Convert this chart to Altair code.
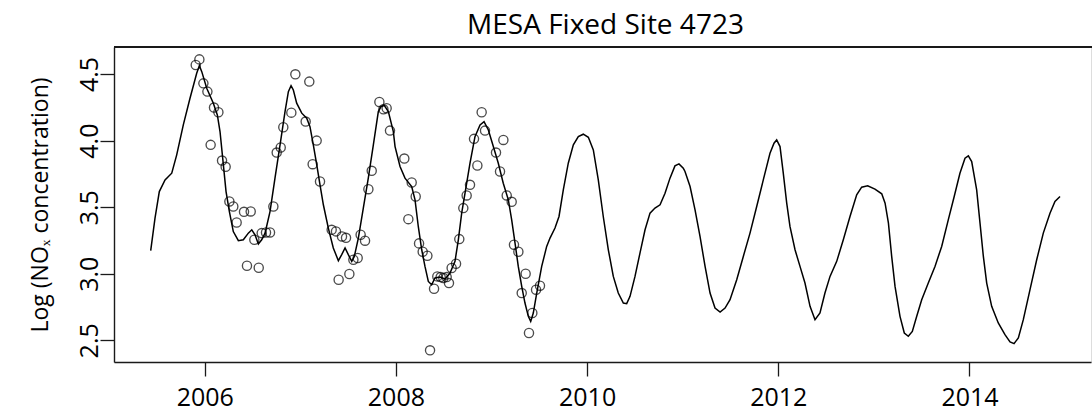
import altair as alt
import pandas as pd

# Monthly observations (decimal year, log NOx)
obs_year = [
    2005.906, 2005.944, 2005.986, 2006.028, 2006.062, 2006.097, 2006.143, 2006.181,
    2006.219, 2006.258, 2006.299, 2006.334, 2006.411, 2006.442, 2006.481, 2006.519,
    2006.565, 2006.596, 2006.641, 2006.683, 2006.718, 2006.753, 2006.795, 2006.822,
    2006.906, 2006.948, 2007.056, 2007.094, 2007.129, 2007.171, 2007.206, 2007.328,
    2007.373, 2007.401, 2007.436, 2007.478, 2007.513, 2007.555, 2007.600, 2007.631,
    2007.677, 2007.712, 2007.747, 2007.827, 2007.869, 2007.903, 2007.938, 2008.088,
    2008.130, 2008.165, 2008.207, 2008.242, 2008.280, 2008.329, 2008.357, 2008.399,
    2008.433, 2008.468, 2008.496, 2008.531, 2008.555, 2008.583, 2008.629, 2008.663,
    2008.705, 2008.740, 2008.775, 2008.817, 2008.852, 2008.897, 2008.932, 2009.047,
    2009.089, 2009.124, 2009.159, 2009.211, 2009.235, 2009.281, 2009.316, 2009.357,
    2009.392, 2009.427, 2009.466, 2009.507,
]
obs_value = [
    4.568, 4.610, 4.430, 4.368, 3.968, 4.248, 4.213, 3.850,
    3.803, 3.543, 3.505, 3.385, 3.465, 3.060, 3.468, 3.255,
    3.045, 3.305, 3.310, 3.310, 3.505, 3.910, 3.948, 4.100,
    4.210, 4.498, 4.143, 4.443, 3.823, 4.000, 3.693, 3.330,
    3.318, 2.955, 3.280, 3.270, 2.998, 3.105, 3.118, 3.293,
    3.248, 3.635, 3.773, 4.290, 4.235, 4.243, 4.075, 3.865,
    3.410, 3.685, 3.580, 3.228, 3.165, 3.135, 2.425, 2.887,
    2.980, 2.975, 2.968, 2.975, 2.930, 3.043, 3.075, 3.260,
    3.493, 3.588, 3.668, 4.013, 3.813, 4.213, 4.075, 3.910,
    3.768, 4.005, 3.588, 3.540, 3.218, 3.165, 2.855, 3.000,
    2.555, 2.705, 2.880, 2.910,
]

# Predicted series
fit_year = [
    2005.435, 2005.480, 2005.525, 2005.585, 2005.655, 2005.707, 2005.776, 2005.846,
    2005.916, 2005.944, 2005.969, 2006.021, 2006.090, 2006.132, 2006.160, 2006.188,
    2006.223, 2006.258, 2006.299, 2006.352, 2006.404, 2006.456, 2006.492, 2006.526,
    2006.561, 2006.596, 2006.631, 2006.683, 2006.735, 2006.788, 2006.840, 2006.875,
    2006.903, 2006.927, 2006.962, 2007.015, 2007.067, 2007.101, 2007.136, 2007.172,
    2007.206, 2007.241, 2007.293, 2007.345, 2007.398, 2007.433, 2007.468, 2007.502,
    2007.538, 2007.565, 2007.607, 2007.659, 2007.711, 2007.764, 2007.816, 2007.844,
    2007.879, 2007.921, 2007.973, 2007.991, 2008.043, 2008.095, 2008.165, 2008.200,
    2008.234, 2008.270, 2008.304, 2008.339, 2008.374, 2008.409, 2008.461, 2008.514,
    2008.566, 2008.618, 2008.653, 2008.688, 2008.723, 2008.775, 2008.827, 2008.880,
    2008.922, 2008.967, 2009.019, 2009.071, 2009.123, 2009.176, 2009.211, 2009.246,
    2009.280, 2009.316, 2009.350, 2009.385, 2009.410, 2009.437, 2009.473, 2009.525,
    2009.577, 2009.612, 2009.664, 2009.706, 2009.751, 2009.803, 2009.856, 2009.908,
    2009.960, 2010.013, 2010.065, 2010.117, 2010.169, 2010.222, 2010.274, 2010.326,
    2010.379, 2010.414, 2010.449, 2010.501, 2010.553, 2010.606, 2010.658, 2010.710,
    2010.763, 2010.815, 2010.867, 2010.919, 2010.961, 2011.006, 2011.024, 2011.077,
    2011.129, 2011.181, 2011.234, 2011.286, 2011.338, 2011.391, 2011.443, 2011.495,
    2011.565, 2011.634, 2011.704, 2011.774, 2011.843, 2011.913, 2011.955, 2011.983,
    2012.018, 2012.052, 2012.088, 2012.122, 2012.175, 2012.227, 2012.279, 2012.332,
    2012.384, 2012.436, 2012.488, 2012.541, 2012.611, 2012.680, 2012.750, 2012.820,
    2012.872, 2012.935, 2013.011, 2013.082, 2013.117, 2013.152, 2013.186, 2013.221,
    2013.273, 2013.318, 2013.360, 2013.402, 2013.448, 2013.500, 2013.569, 2013.639,
    2013.709, 2013.778, 2013.840, 2013.900, 2013.953, 2013.988, 2014.023, 2014.075,
    2014.110, 2014.145, 2014.180, 2014.232, 2014.301, 2014.371, 2014.424, 2014.466,
    2014.511, 2014.563, 2014.633, 2014.703, 2014.772, 2014.842, 2014.894, 2014.947,
]
fit_value = [
    3.173, 3.418, 3.617, 3.705, 3.755, 3.893, 4.118, 4.318,
    4.506, 4.563, 4.518, 4.393, 4.281, 4.193, 4.068, 3.868,
    3.617, 3.467, 3.317, 3.248, 3.255, 3.305, 3.330, 3.293,
    3.223, 3.255, 3.305, 3.467, 3.718, 3.968, 4.218, 4.368,
    4.413, 4.380, 4.281, 4.206, 4.168, 4.105, 3.968, 3.818,
    3.668, 3.518, 3.343, 3.193, 3.098, 3.143, 3.193, 3.143,
    3.093, 3.130, 3.268, 3.493, 3.718, 3.968, 4.218, 4.255,
    4.263, 4.218, 4.068, 3.955, 3.805, 3.718, 3.655, 3.555,
    3.355, 3.180, 3.055, 2.942, 2.917, 2.968, 2.975, 2.960,
    3.005, 3.093, 3.255, 3.455, 3.605, 3.830, 4.030, 4.118,
    4.143, 4.080, 3.955, 3.830, 3.680, 3.555, 3.405, 3.230,
    3.055, 2.905, 2.780, 2.680, 2.642, 2.705, 2.855, 3.055,
    3.205, 3.268, 3.343, 3.430, 3.630, 3.830, 3.968, 4.030,
    4.048, 4.025, 3.930, 3.705, 3.430, 3.180, 2.980, 2.855,
    2.780, 2.775, 2.830, 2.980, 3.155, 3.330, 3.455, 3.493,
    3.518, 3.605, 3.718, 3.810, 3.825, 3.793, 3.768, 3.655,
    3.480, 3.280, 3.055, 2.855, 2.742, 2.712, 2.742, 2.805,
    2.955, 3.130, 3.305, 3.505, 3.705, 3.905, 3.980, 4.005,
    3.955, 3.755, 3.530, 3.355, 3.180, 3.055, 2.930, 2.755,
    2.655, 2.705, 2.855, 2.980, 3.093, 3.255, 3.430, 3.593,
    3.650, 3.660, 3.635, 3.600, 3.530, 3.380, 3.130, 2.905,
    2.680, 2.555, 2.530, 2.567, 2.680, 2.805, 2.930, 3.055,
    3.205, 3.405, 3.580, 3.755, 3.868, 3.885, 3.843, 3.630,
    3.380, 3.130, 2.930, 2.755, 2.630, 2.542, 2.488, 2.475,
    2.518, 2.655, 2.880, 3.105, 3.305, 3.455, 3.543, 3.580,
]

x_ticks = [2006, 2008, 2010, 2012, 2014]
y_ticks = [2.5, 3.0, 3.5, 4.0, 4.5]

obs = pd.DataFrame({"year": obs_year, "value": obs_value})
fit = pd.DataFrame({"year": fit_year, "value": fit_value})

W, H = 977, 315
FONT = "Open Sans"
INK = "#1a1a1a"

x_scale = alt.Scale(domain=[2005.051, 2015.271], nice=False, zero=False)
y_scale = alt.Scale(domain=[2.337, 4.703], nice=False, zero=False)

x_axis = alt.Axis(
    values=x_ticks, format="d", title="", grid=False,
    domainColor=INK, domainWidth=1.4, tickColor=INK, tickWidth=1.3, tickSize=14,
    labelFontSize=25, labelFont=FONT, labelColor="black", labelPadding=9,
    labelAngle=0, labelFlush=False, labelOverlap=False,
)
y_axis = alt.Axis(
    values=y_ticks, format=".1f", title="Log (NOₓ concentration)", grid=False,
    domainColor=INK, domainWidth=1.4, tickColor=INK, tickWidth=1.3, tickSize=14,
    labelFontSize=25, labelFont=FONT, labelColor="black", labelPadding=3,
    labelAngle=270, labelAlign="center", labelBaseline="alphabetic",
    labelFlush=False, labelOverlap=False,
    titleFontSize=23, titleFont=FONT, titleFontWeight="normal", titleColor="black",
    titleAngle=270, titleAlign="center", titleBaseline="middle",
    titleX=-74, titleY=H / 2,
)

fit_line = alt.Chart(fit).mark_line(color="black", strokeWidth=1.5).encode(
    x=alt.X("year:Q", scale=x_scale, axis=x_axis),
    y=alt.Y("value:Q", scale=y_scale, axis=y_axis),
)

points = alt.Chart(obs).mark_point(
    shape="circle", filled=False, color="black", size=84, strokeWidth=1.35
).encode(
    x=alt.X("year:Q", scale=x_scale),
    y=alt.Y("value:Q", scale=y_scale),
)

# top edge of the frame
top_edge = alt.Chart(obs).mark_rule(color=INK, strokeWidth=1.4).encode(
    x=alt.value(0), x2=alt.value(W + 1), y=alt.value(0)
)

chart = (
    alt.layer(fit_line, points, top_edge)
    .properties(
        width=W,
        height=H,
        title=alt.Title(
            "MESA Fixed Site 4723", fontSize=28, font=FONT, fontWeight="normal",
            color="black", offset=6, dx=3, anchor="middle",
        ),
        autosize=alt.AutoSizeParams(type="none"),
        padding={"left": 114, "top": 47, "right": 1, "bottom": 57},
    )
    .configure_view(strokeWidth=0)
    .configure(background="white")
)

chart.save("out.html", embed_options={"renderer": "svg", "actions": False})
